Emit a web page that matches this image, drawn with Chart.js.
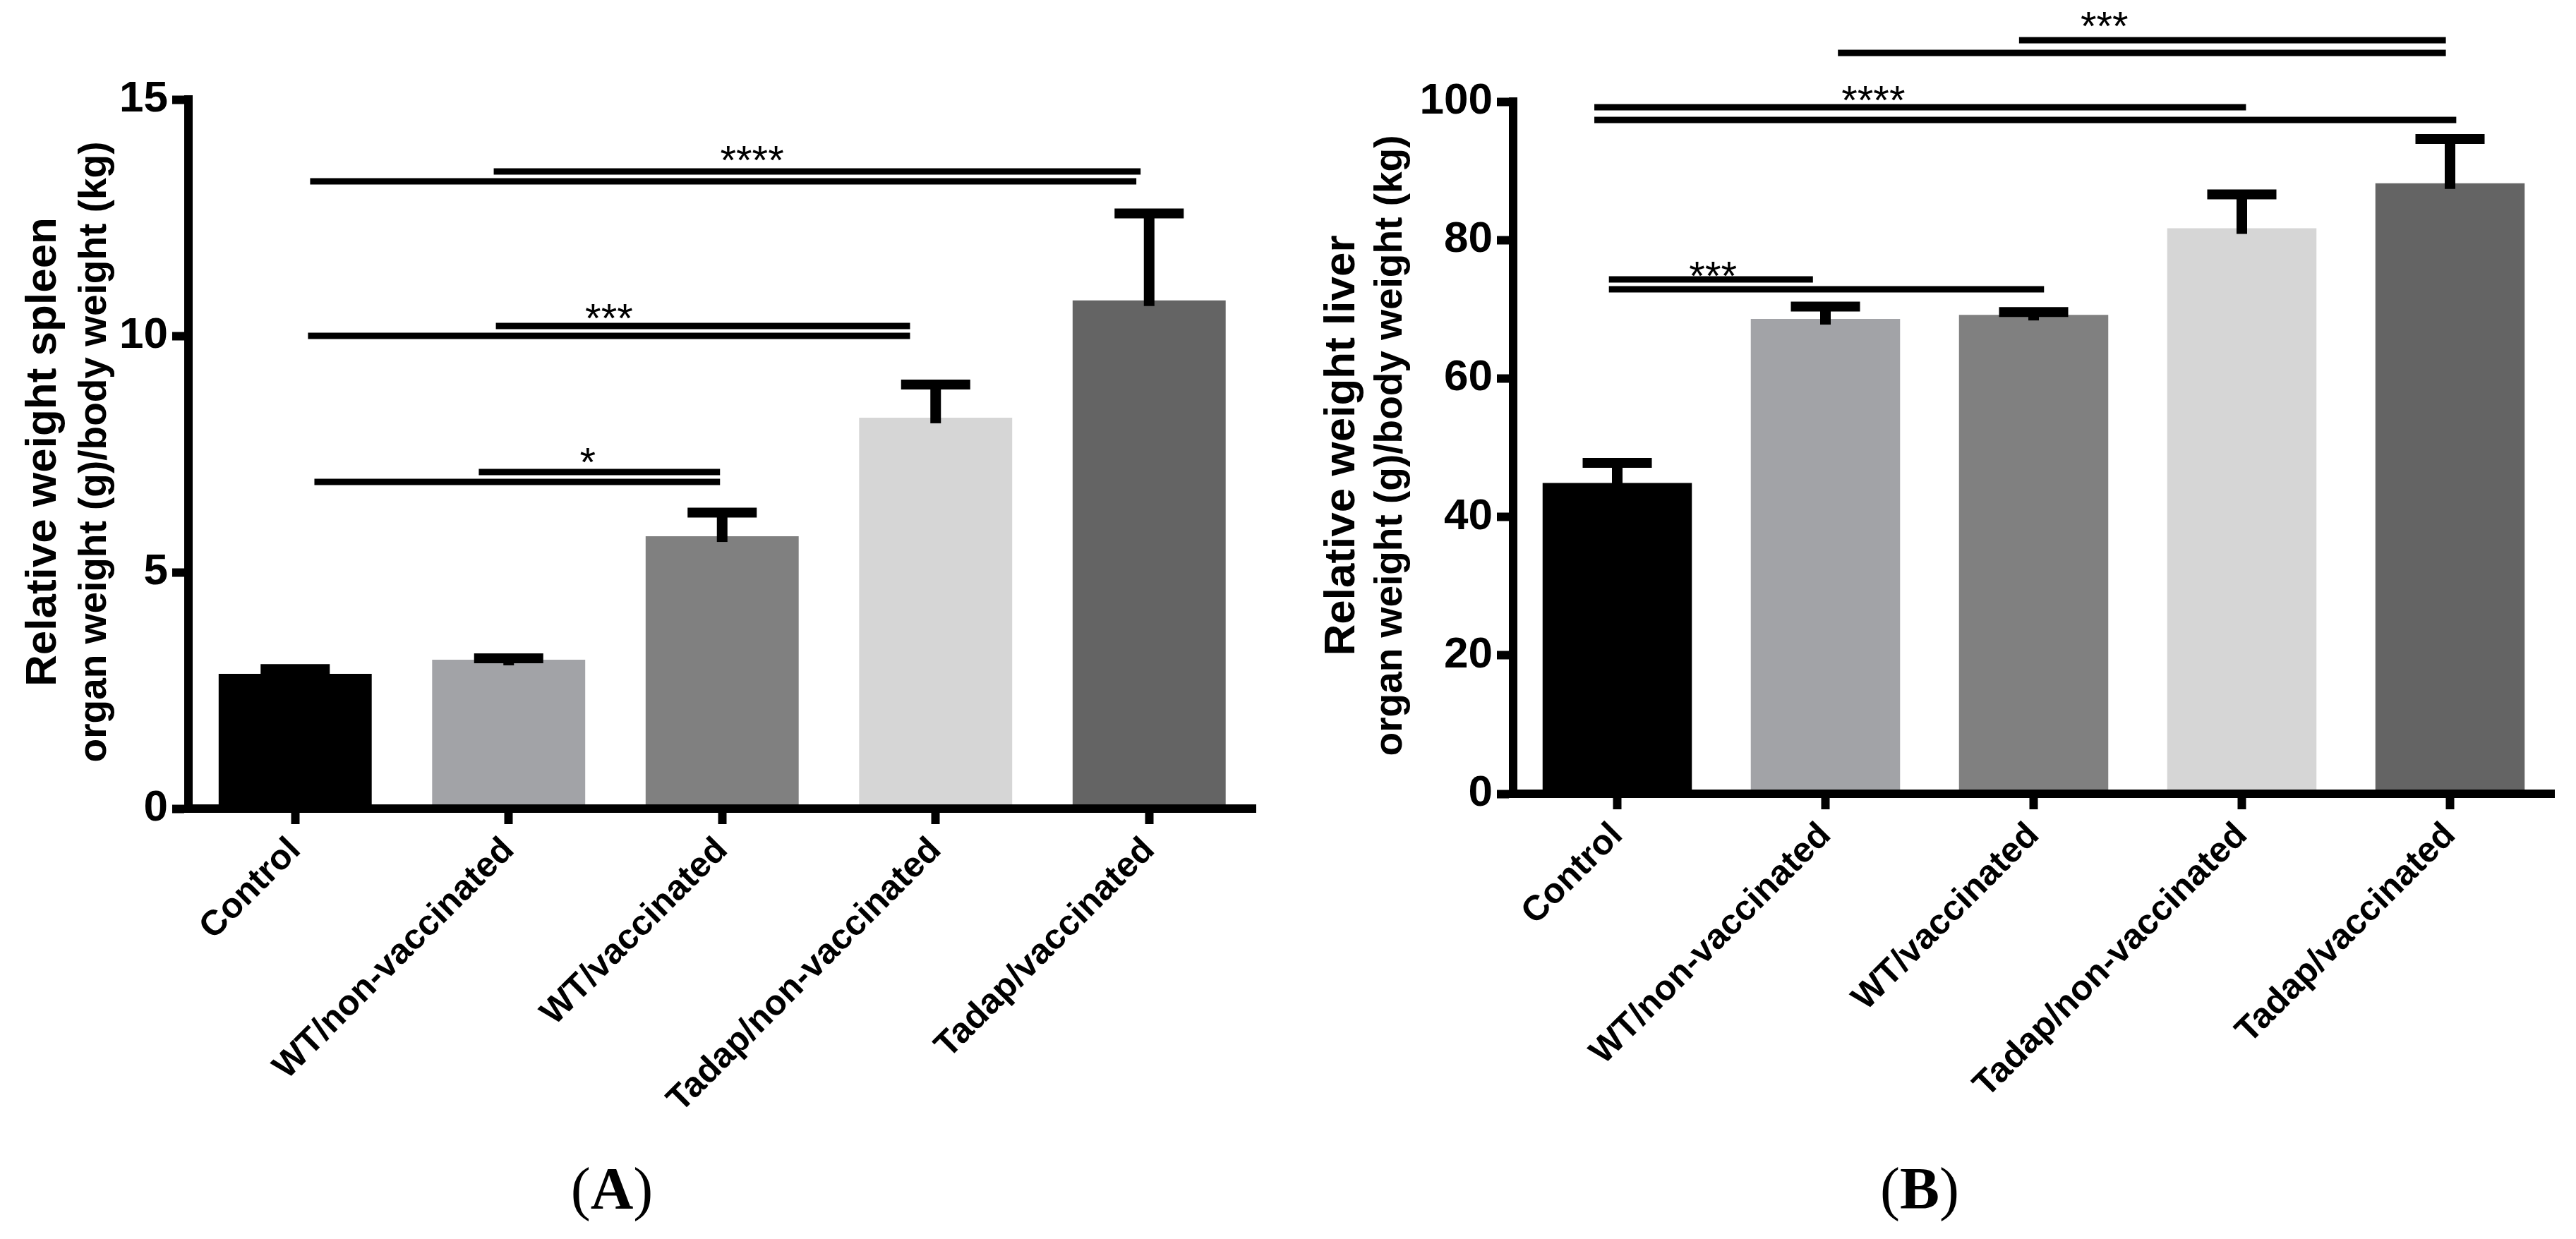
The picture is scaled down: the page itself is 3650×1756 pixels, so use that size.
<!DOCTYPE html>
<html>
<head>
<meta charset="utf-8">
<script src="https://cdn.jsdelivr.net/npm/chart.js@4.4.1/dist/chart.umd.min.js"></script>
<style>
  html, body { margin: 0; padding: 0; background: #fff; }
  body { width: 3650px; height: 1756px; position: relative; overflow: hidden; }
  canvas { position: absolute; top: 0; }
  #spleenChart { left: 0; }
  #liverChart { left: 1825px; }
  .panel { position: absolute; top: 1643px; width: 300px; margin-left: -150px; text-align: center;
           font-family: 'Liberation Serif', 'Times New Roman', serif; font-size: 84px; line-height: 84px; color: #000; }
</style>
</head>
<body>
<canvas id="spleenChart" width="1825" height="1756"></canvas>
<canvas id="liverChart" width="1825" height="1756"></canvas>
<div class="panel" style="left:867px">(<b>A</b>)</div>
<div class="panel" style="left:2720px">(<b>B</b>)</div>
<script>
var groups = ['Control', 'WT/non-vaccinated', 'WT/vaccinated', 'Tadap/non-vaccinated', 'Tadap/vaccinated'];
var barColors = ['#000000', '#a2a3a7', '#808080', '#d6d6d6', '#646464'];

// (A) spleen
var spleenMean = [2.85, 3.15, 5.76, 8.27, 10.75];
var spleenSem = [0.10, 0.03, 0.50, 0.70, 1.84];
var spleenTicks = [0, 5, 10, 15];

// (B) liver
var liverMean = [44.9, 68.6, 69.2, 81.7, 88.2];
var liverSem = [2.9, 1.8, 0.4, 4.9, 6.4];
var liverTicks = [0, 20, 40, 60, 80, 100];

// significance lines: [from group, to group, height on y axis]
var spleenLines = [
    [0.09, 1.99, 6.91], [0.86, 1.99, 7.12],
    [0.06, 2.88, 10.00], [0.94, 2.88, 10.21],
    [0.07, 3.94, 13.27], [0.93, 3.96, 13.48]
];
var spleenStars = [['*', 1.37, 7.53], ['***', 1.47, 10.58], ['****', 2.14, 13.92]];

var liverLines = [
    [-0.04, 2.05, 72.9], [-0.04, 0.94, 74.3],
    [-0.11, 4.03, 97.3], [-0.11, 3.02, 99.15],
    [1.06, 3.98, 107.0], [1.93, 3.98, 108.9]
];
var liverStars = [['***', 0.46, 76.2], ['****', 1.23, 101.6], ['***', 2.34, 112.3]];

var sans = "'Liberation Sans', Arial, sans-serif";

// error bars, significance lines, stars and the two-line y title
var annotate = {
    id: 'annotate',
    afterDatasetsDraw: function (chart) {
        var o = chart.options.plugins.annotate;
        var y = chart.scales.y;
        var meta = chart.getDatasetMeta(0);
        var ctx = chart.ctx;
        ctx.save();
        ctx.strokeStyle = '#000';
        ctx.lineCap = 'butt';
        o.mean.forEach(function (m, i) {
            var cx = meta.data[i].x;
            var top = y.getPixelForValue(m + o.sem[i]);
            var base = y.getPixelForValue(m);
            ctx.lineWidth = 15;
            ctx.beginPath();
            ctx.moveTo(cx, base + 8);
            ctx.lineTo(cx, top);
            ctx.stroke();
            ctx.lineWidth = 14;
            ctx.beginPath();
            ctx.moveTo(cx - 49, top);
            ctx.lineTo(cx + 49, top);
            ctx.stroke();
        });
        ctx.restore();
    },
    afterDraw: function (chart) {
        var o = chart.options.plugins.annotate;
        var x = chart.scales.x, y = chart.scales.y;
        var ctx = chart.ctx;
        var p0 = x.getPixelForValue(0), step = x.getPixelForValue(1) - p0;
        function px(f) { return p0 + f * step; }

        ctx.save();
        ctx.strokeStyle = '#000';
        ctx.fillStyle = '#000';
        ctx.lineWidth = 9;
        o.lines.forEach(function (l) {
            var ly = Math.round(y.getPixelForValue(l[2]));
            ctx.beginPath();
            ctx.moveTo(px(l[0]), ly);
            ctx.lineTo(px(l[1]), ly);
            ctx.stroke();
        });

        ctx.font = '58px ' + sans;
        ctx.textAlign = 'center';
        ctx.textBaseline = 'alphabetic';
        o.stars.forEach(function (s) {
            ctx.fillText(s[0], px(s[1]), y.getPixelForValue(s[2]) + 34);
        });

        var cy = (chart.chartArea.top + chart.chartArea.bottom) / 2 - 3;
        ctx.font = 'bold 62px ' + sans;
        ctx.save();
        ctx.translate(o.t1x, cy);
        ctx.rotate(-Math.PI / 2);
        ctx.fillText(o.title1, 0, 0);
        ctx.restore();
        ctx.font = 'bold 55px ' + sans;
        ctx.save();
        ctx.translate(o.t2x, cy);
        ctx.rotate(-Math.PI / 2);
        ctx.fillText(o.title2, 0, 0);
        ctx.restore();
        ctx.restore();
    }
};

function makeChart(id, mean, sem, ticks, lines, stars, layout) {
    var ctx = document.getElementById(id).getContext('2d');
    return new Chart(ctx, {
        type: 'bar',
        data: {
            labels: groups,
            datasets: [{
                data: mean,
                backgroundColor: barColors,
                borderWidth: 0,
                barPercentage: 0.717,
                categoryPercentage: 1
            }]
        },
        options: {
            responsive: false,
            animation: false,
            devicePixelRatio: 1,
            layout: { padding: { top: layout.top, right: layout.right, left: 0, bottom: 0 } },
            plugins: {
                legend: { display: false },
                tooltip: { enabled: false },
                annotate: {
                    mean: mean, sem: sem, lines: lines, stars: stars,
                    title1: layout.title1, title2: 'organ weight (g)/body weight (kg)',
                    t1x: layout.t1x, t2x: layout.t2x
                }
            },
            scales: {
                x: {
                    offset: true,
                    grid: { display: true, drawOnChartArea: false, offset: false, tickLength: 22, tickWidth: 12, color: '#000', tickColor: '#000' },
                    border: { display: true, width: 12, color: '#000', z: 1 },
                    ticks: {
                        autoSkip: false, minRotation: 45, maxRotation: 45, padding: 8, color: '#000',
                        font: { family: sans, size: 50, weight: 'bold' }
                    },
                    afterFit: function (s) { s.height = layout.xHeight; }
                },
                y: {
                    min: ticks[0],
                    max: ticks[ticks.length - 1],
                    ticks: {
                        stepSize: ticks[1] - ticks[0], padding: 6, color: '#000',
                        font: { family: sans, size: 62, weight: 'bold' }
                    },
                    grid: { display: true, drawOnChartArea: false, tickLength: 23, tickWidth: 12, color: '#000', tickColor: '#000' },
                    border: { display: true, width: 12, color: '#000', z: 1 },
                    afterFit: function (s) { s.width = layout.yWidth; }
                }
            }
        },
        plugins: [annotate]
    });
}

makeChart('spleenChart', spleenMean, spleenSem, spleenTicks, spleenLines, spleenStars, {
    top: 141, right: 45.5, yWidth: 267, xHeight: 610,
    title1: 'Relative weight spleen', t1x: 79, t2x: 150
});
makeChart('liverChart', liverMean, liverSem, liverTicks, liverLines, liverStars, {
    top: 144, right: 31, yWidth: 319, xHeight: 631,
    title1: 'Relative weight liver', t1x: 94, t2x: 161
});
</script>
</body>
</html>
